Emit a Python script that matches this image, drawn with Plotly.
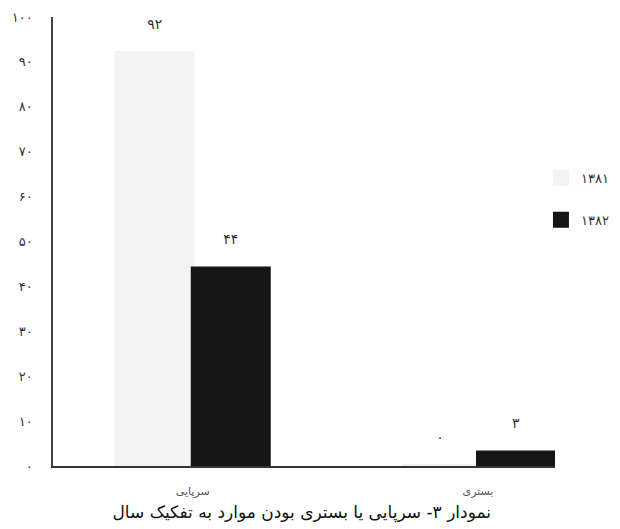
import plotly.graph_objects as go

categories = ["سرپایی", "بستری"]
series_names = ["۱۳۸۱", "۱۳۸۲"]
values_1381 = [92, 0]
values_1382 = [44, 3]
bar_labels_1381 = ["۹۲", "۰"]
bar_labels_1382 = ["۴۴", "۳"]
tick_vals = [0, 10, 20, 30, 40, 50, 60, 70, 80, 90, 100]
tick_text = ["۰", "۱۰", "۲۰", "۳۰", "۴۰", "۵۰", "۶۰", "۷۰", "۸۰", "۹۰", "۱۰۰"]
title_text = "نمودار ۳- سرپایی یا بستری بودن موارد به تفکیک سال"

FONT = "DejaVu Sans"
LIGHT = "#f3f3f3"
DARK = "#161616"

fig = go.Figure()
fig.add_trace(go.Bar(
    x=categories, y=values_1381, name=series_names[0], legendgroup="a",
    marker=dict(color=LIGHT, line=dict(width=4, color=LIGHT)),
    text=[t + "<br> " for t in bar_labels_1381], textposition="outside",
    textfont=dict(family=FONT, size=14, color="#333"), cliponaxis=False,
))
fig.add_trace(go.Bar(
    x=categories, y=values_1382, name=series_names[1], legendgroup="b",
    marker=dict(color=DARK, line=dict(width=4, color=DARK)),
    text=[t + "<br> " for t in bar_labels_1382], textposition="outside",
    textfont=dict(family=FONT, size=14, color="#333"), cliponaxis=False,
))

# the page body adds an 8px offset, so the figure is 8px smaller each way
fig.update_layout(
    width=612, height=521,
    margin=dict(l=45, r=65, t=9, b=63, autoexpand=False),
    paper_bgcolor="white", plot_bgcolor="white",
    barmode="group", bargap=0.467, bargroupgap=0,
    font=dict(family=FONT, color="#333"),
    showlegend=True,
    legend=dict(x=0.972, xanchor="left", y=0.675, yanchor="top",
                traceorder="grouped", tracegroupgap=22,
                font=dict(family=FONT, size=13, color="#333"),
                bgcolor="rgba(0,0,0,0)"),
    title=dict(text=title_text, x=0.48, xref="container", xanchor="center",
               y=0.033, yref="container", yanchor="middle",
               font=dict(family=FONT, size=17, color="#111")),
    xaxis=dict(
        range=[-0.49, 1.27], showgrid=False, zeroline=False, automargin=False,
        showline=True, linecolor="#333", linewidth=2,
        ticks="", ticklabelstandoff=14,
        tickfont=dict(family=FONT, size=11, color="#555"),
    ),
    yaxis=dict(
        range=[0, 100], showgrid=False, zeroline=False, automargin=False,
        showline=True, linecolor="#444", linewidth=1.5,
        tickmode="array", tickvals=tick_vals, ticktext=tick_text,
        ticks="", ticklabelstandoff=16, ticklabeloverflow="allow",
        tickfont=dict(family=FONT, size=13, color="#333"),
    ),
)

fig.write_html("out.html")
